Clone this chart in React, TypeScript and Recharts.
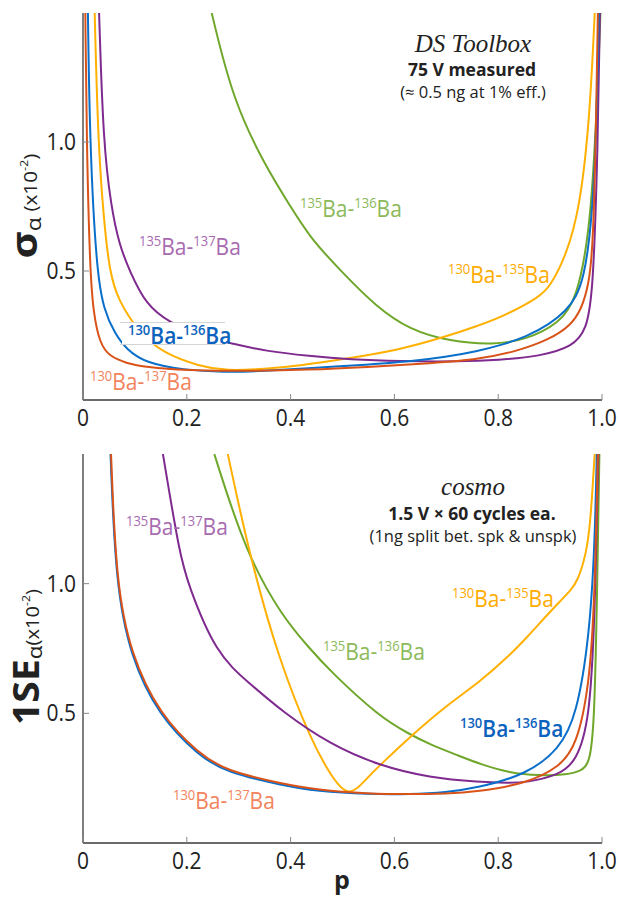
import { LineChart, Line, XAxis, YAxis } from "recharts";

// p values on x, value in units of 1e-2 on y
const P_TICKS = [0, 0.2, 0.4, 0.6, 0.8, 1.0];
const V_TICKS = [0.5, 1.0];

// --- top panel: sigma_alpha, DS Toolbox, 75 V measured ---
const ds130_137 = [
  [0.0045, 1.5], [0.007, 1.0], [0.0135, 0.5], [0.02, 0.34], [0.032, 0.22], [0.051, 0.169],
  [0.083, 0.143], [0.12, 0.127], [0.2, 0.114], [0.3, 0.112], [0.437, 0.117], [0.55, 0.128],
  [0.65, 0.14], [0.758, 0.156], [0.83, 0.185], [0.9, 0.235], [0.94, 0.29], [0.96, 0.35],
  [0.975, 0.45], [0.983, 0.6], [0.989, 1.1], [0.992, 1.5],
];
const ds130_136 = [
  [0.0095, 1.5], [0.013, 1.0], [0.026, 0.5], [0.04, 0.35], [0.061, 0.259], [0.084, 0.195],
  [0.122, 0.143], [0.193, 0.117], [0.27, 0.107], [0.35, 0.112], [0.437, 0.124], [0.55, 0.137],
  [0.629, 0.149], [0.7, 0.167], [0.758, 0.188], [0.81, 0.215], [0.854, 0.245], [0.9, 0.295],
  [0.93, 0.345], [0.951, 0.4], [0.965, 0.48], [0.976, 0.62], [0.984, 0.82], [0.989, 1.05], [0.994, 1.5],
];
const ds130_135 = [
  [0.0225, 1.5], [0.029, 1.0], [0.04, 0.7], [0.051, 0.5], [0.067, 0.388], [0.109, 0.259],
  [0.154, 0.182], [0.225, 0.13], [0.277, 0.113], [0.35, 0.12], [0.418, 0.133], [0.514, 0.162],
  [0.61, 0.195], [0.69, 0.24], [0.758, 0.285], [0.816, 0.33], [0.88, 0.4], [0.9, 0.44],
  [0.931, 0.56], [0.957, 0.74], [0.976, 1.08], [0.986, 1.5],
];
const ds135_137 = [
  [0.031, 1.5], [0.039, 1.0], [0.054, 0.75], [0.07, 0.6], [0.09, 0.5], [0.121, 0.37],
  [0.166, 0.3], [0.23, 0.245], [0.289, 0.218], [0.35, 0.19], [0.437, 0.17], [0.514, 0.157],
  [0.61, 0.15], [0.726, 0.149], [0.8, 0.155], [0.88, 0.169], [0.944, 0.207], [0.97, 0.272],
  [0.983, 0.415], [0.992, 0.995], [0.996, 1.5],
];
const ds135_136 = [
  [0.248, 1.5], [0.289, 1.16], [0.353, 0.9], [0.4, 0.75], [0.437, 0.63], [0.501, 0.491],
  [0.565, 0.362], [0.629, 0.272], [0.707, 0.227], [0.79, 0.214], [0.854, 0.233], [0.918, 0.298],
  [0.951, 0.388], [0.976, 0.647], [0.988, 1.03], [0.997, 1.5],
];

// --- bottom panel: 1SE_alpha, cosmo, 1.5 V x 60 cycles ---
const cs130_137 = [
  [0.054, 1.5], [0.064, 1.0], [0.092, 0.729], [0.147, 0.497], [0.224, 0.343], [0.276, 0.278],
  [0.385, 0.228], [0.45, 0.205], [0.55, 0.19], [0.63, 0.188], [0.7, 0.19], [0.758, 0.197],
  [0.854, 0.229], [0.918, 0.293], [0.951, 0.375], [0.976, 0.61], [0.986, 0.95], [0.992, 1.5],
];
const cs130_136 = [
  [0.053, 1.5], [0.063, 1.0], [0.091, 0.72], [0.146, 0.49], [0.224, 0.335], [0.276, 0.272],
  [0.385, 0.222], [0.45, 0.2], [0.55, 0.188], [0.63, 0.188], [0.7, 0.195], [0.758, 0.212],
  [0.854, 0.263], [0.918, 0.362], [0.951, 0.49], [0.976, 0.8], [0.986, 1.15], [0.99, 1.5],
];
const cs130_135 = [
  [0.279, 1.5], [0.32, 1.116], [0.378, 0.7], [0.443, 0.381], [0.475, 0.27], [0.51, 0.17],
  [0.545, 0.245], [0.572, 0.3], [0.636, 0.42], [0.7, 0.53],
  [0.764, 0.62], [0.82, 0.72], [0.854, 0.79], [0.89, 0.87], [0.918, 0.93], [0.94, 0.975],
  [0.953, 1.01], [0.97, 1.116], [0.978, 1.245], [0.984, 1.44], [0.986, 1.5],
];
const cs135_137 = [
  [0.154, 1.5], [0.186, 1.116], [0.202, 1.0], [0.256, 0.729], [0.32, 0.617], [0.385, 0.505],
  [0.475, 0.381], [0.572, 0.297], [0.668, 0.252], [0.764, 0.235], [0.82, 0.232], [0.854, 0.233],
  [0.918, 0.262], [0.951, 0.317], [0.976, 0.471], [0.986, 0.86], [0.993, 1.5],
];
const cs135_136 = [
  [0.253, 1.5], [0.314, 1.116], [0.385, 0.87], [0.437, 0.75], [0.475, 0.665], [0.572, 0.485],
  [0.629, 0.42], [0.668, 0.38], [0.726, 0.335], [0.764, 0.305], [0.822, 0.27], [0.88, 0.26],
  [0.931, 0.262], [0.963, 0.28], [0.976, 0.31], [0.985, 0.45], [0.99, 0.9], [0.995, 1.5],
];

const BLUE = "#0a6fca";
const RED = "#d95319";
const ORANGE = "#ffb000";
const PURPLE = "#7e2a8e";
const GREEN = "#6fa72b";
const FRAME = "#3a3a3a";
const FONT = "'Open Sans', sans-serif";

const rows = (pts: number[][]) => pts.map(([p, v]) => ({ p, v }));

const topSeries = [
  { key: "ds135_136", data: ds135_136, color: GREEN },
  { key: "ds130_135", data: ds130_135, color: ORANGE },
  { key: "ds135_137", data: ds135_137, color: PURPLE },
  { key: "ds130_136", data: ds130_136, color: BLUE },
  { key: "ds130_137", data: ds130_137, color: RED },
];
const bottomSeries = [
  { key: "cs135_136", data: cs135_136, color: GREEN },
  { key: "cs130_135", data: cs130_135, color: ORANGE },
  { key: "cs135_137", data: cs135_137, color: PURPLE },
  { key: "cs130_136", data: cs130_136, color: BLUE },
  { key: "cs130_137", data: cs130_137, color: RED },
];

const fmtP = (v: number) => (v === 0 ? "0" : v.toFixed(1));

// ticks point inward, matlab style
const BottomTick = (props: any) => {
  const { x, y, payload } = props;
  return (
    <g>
      <line x1={x} y1={y} x2={x} y2={y - 6} stroke="#888" strokeWidth={1} />
      <text x={0} y={0} textAnchor="middle" fontSize={21} fill="#222" fontFamily={FONT}
        transform={`translate(${x},${y + 26}) scale(1,1.12)`}>
        {fmtP(payload.value)}
      </text>
    </g>
  );
};
const TopTick = (props: any) => {
  const { x, y } = props;
  return <line x1={x} y1={y} x2={x} y2={y + 6} stroke="#888" strokeWidth={1} />;
};
const LeftTick = (props: any) => {
  const { x, y, payload } = props;
  return (
    <g>
      <line x1={x} y1={y} x2={x + 6} y2={y} stroke="#888" strokeWidth={1} />
      <text x={0} y={0} textAnchor="end" fontSize={21} fill="#222" fontFamily={FONT}
        transform={`translate(${x - 7},${y + 8}) scale(1,1.12)`}>
        {payload.value.toFixed(1)}
      </text>
    </g>
  );
};
const RightTick = (props: any) => {
  const { x, y } = props;
  return <line x1={x} y1={y} x2={x - 6} y2={y} stroke="#888" strokeWidth={1} />;
};

function Panel({ series, marginTop, marginBottom }: any) {
  return (
    <LineChart width={619} height={450} margin={{ top: marginTop, right: 17, bottom: marginBottom, left: 23 }}>
      <XAxis type="number" dataKey="p" domain={[0, 1]} ticks={P_TICKS} allowDataOverflow
        height={40} tickSize={0} tickMargin={0} tickLine={false}
        axisLine={{ stroke: FRAME, strokeWidth: 1.3 }} tick={<BottomTick />} />
      <XAxis xAxisId="top" orientation="top" type="number" dataKey="p" domain={[0, 1]} ticks={P_TICKS}
        allowDataOverflow height={0} tickSize={0} tickMargin={0} tickLine={false}
        axisLine={{ stroke: FRAME, strokeWidth: 1.3 }} tick={<TopTick />} />
      <YAxis type="number" domain={[0, 1.5]} ticks={V_TICKS} allowDataOverflow width={60}
        tickSize={0} tickMargin={0} tickLine={false}
        axisLine={{ stroke: FRAME, strokeWidth: 1.3 }} tick={<LeftTick />} />
      <YAxis yAxisId="right" orientation="right" type="number" domain={[0, 1.5]} ticks={V_TICKS}
        allowDataOverflow width={0} tickSize={0} tickMargin={0} tickLine={false}
        axisLine={{ stroke: FRAME, strokeWidth: 1.3 }} tick={<RightTick />} />
      {series.map((s: any) => (
        <Line key={s.key} data={rows(s.data)} dataKey="v" type="basis" stroke={s.color}
          strokeWidth={2} dot={false} isAnimationActive={false} />
      ))}
    </LineChart>
  );
}

function IsoLabel({ x, y, a, b, color, weight = 400 }: any) {
  return (
    <text x={0} y={0} fill={color} fontFamily={FONT} fontSize={21} fontWeight={weight}
      transform={`translate(${x},${y}) scale(1,1.1)`}>
      <tspan fontSize={13} dy={-8}>{a}</tspan>
      <tspan dy={8}>Ba-</tspan>
      <tspan fontSize={13} dy={-8}>{b}</tspan>
      <tspan dy={8}>Ba</tspan>
    </text>
  );
}

export default function App() {
  return (
    <div style={{ position: "absolute", left: 0, top: 0, width: 619, height: 900, background: "#fff" }}>
      <div style={{ position: "absolute", left: 0, top: 0 }}>
        <Panel series={topSeries} marginTop={13} marginBottom={10} />
      </div>
      <div style={{ position: "absolute", left: 0, top: 450 }}>
        <Panel series={bottomSeries} marginTop={4} marginBottom={17} />
      </div>
      <svg width={619} height={900} style={{ position: "absolute", left: 0, top: 0, pointerEvents: "none" }}>
        {/* top panel annotations */}
        <text x={473} y={52} textAnchor="middle" fontFamily="'Liberation Serif', serif" fontStyle="italic" fontSize={25} fill="#222">DS Toolbox</text>
        <text x={472} y={76} textAnchor="middle" fontFamily={FONT} fontWeight={700} fontSize={17.5} fill="#222">75 V measured</text>
        <text x={473} y={98} textAnchor="middle" fontFamily={FONT} fontSize={16.5} fill="#222">(≈ 0.5 ng at 1% eff.)</text>

        <IsoLabel x={139} y={255} a="135" b="137" color="#a86bb0" />
        <IsoLabel x={300} y={217} a="135" b="136" color="#8cba5b" />
        <IsoLabel x={448} y={283} a="130" b="135" color="#ffab00" />
        <rect x={122} y={322} width={104} height={22} fill="#fff" />
        <line x1={120} y1={322.5} x2={225} y2={322.5} stroke="#d4d4d4" strokeWidth={1} />
        <line x1={120} y1={344.5} x2={225} y2={344.5} stroke="#d4d4d4" strokeWidth={1} />
        <IsoLabel x={128} y={344} a="130" b="136" color="#0c63bd" weight={600} />
        <IsoLabel x={90} y={390} a="130" b="137" color="#f2845d" />

        <g transform="translate(37,206) rotate(-90) scale(1.15,1)">
          <text x={0} y={0} textAnchor="middle" fontFamily={FONT} fill="#222">
            <tspan fontSize={36} fontWeight={700}>σ</tspan>
            <tspan fontSize={20} dy={4}>α</tspan>
            <tspan fontSize={18} dy={-4} dx={5}>(x10</tspan>
            <tspan fontSize={11} dy={-9}>-2</tspan>
            <tspan fontSize={18} dy={9}>)</tspan>
          </text>
        </g>

        {/* bottom panel annotations */}
        <text x={473} y={495} textAnchor="middle" fontFamily="'Liberation Serif', serif" fontStyle="italic" fontSize={25} fill="#222">cosmo</text>
        <text x={472} y={520} textAnchor="middle" fontFamily={FONT} fontWeight={700} fontSize={17.5} fill="#222">1.5 V × 60 cycles ea.</text>
        <text x={473} y={542} textAnchor="middle" fontFamily={FONT} fontSize={16.5} fill="#222">(1ng split bet. spk &amp; unspk)</text>

        <IsoLabel x={126} y={535} a="135" b="137" color="#a86bb0" />
        <IsoLabel x={323} y={660} a="135" b="136" color="#8cba5b" />
        <IsoLabel x={452} y={607} a="130" b="135" color="#ffab00" />
        <IsoLabel x={460} y={737} a="130" b="136" color="#0c63bd" weight={600} />
        <IsoLabel x={173} y={809} a="130" b="137" color="#f2845d" />

        <g transform="translate(39,657) rotate(-90) scale(1.12,1)">
          <text x={0} y={0} textAnchor="middle" fontFamily={FONT} fill="#222">
            <tspan fontSize={35} fontWeight={700}>1SE</tspan>
            <tspan fontSize={20} dy={3}>α</tspan>
            <tspan fontSize={18} dy={-3}>(x10</tspan>
            <tspan fontSize={11} dy={-9}>-2</tspan>
            <tspan fontSize={18} dy={9}>)</tspan>
          </text>
        </g>

        <text x={342} y={889} textAnchor="middle" fontFamily={FONT} fontWeight={700} fontSize={25} fill="#222">p</text>
      </svg>
    </div>
  );
}
